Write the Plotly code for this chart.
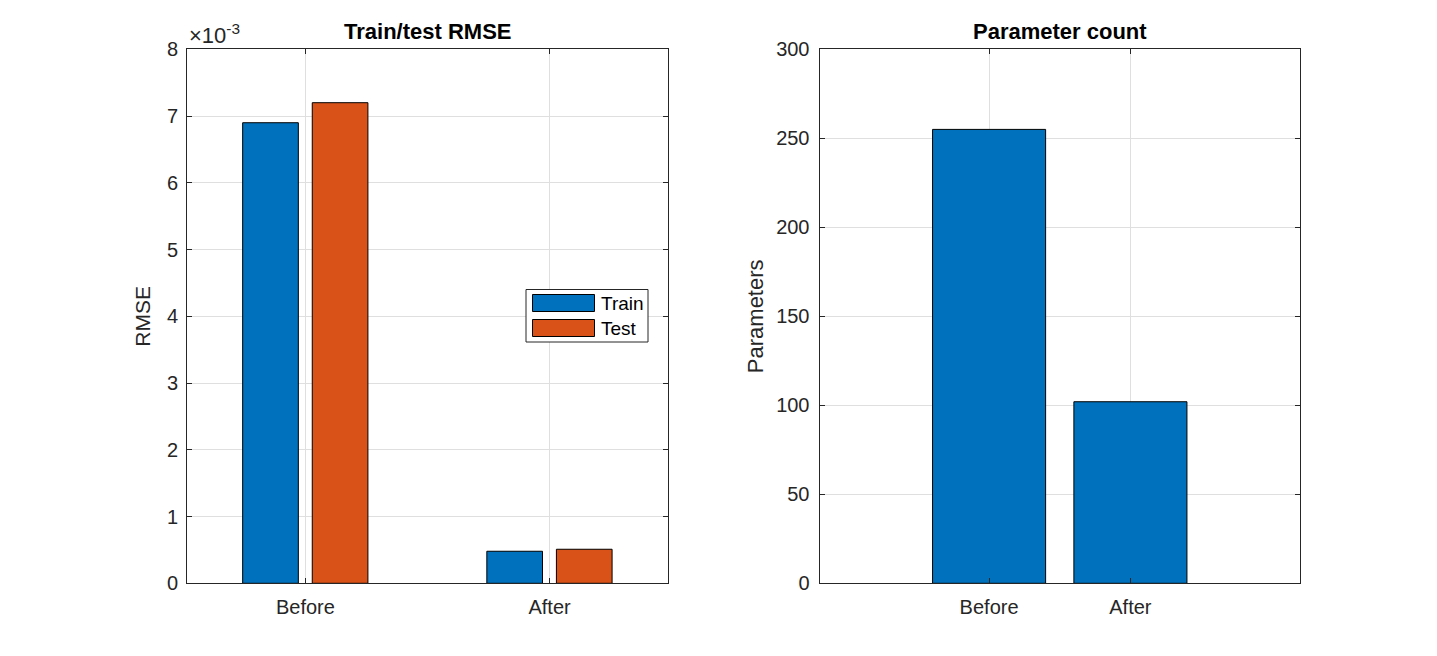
import plotly.graph_objects as go

# ---- data ----
categories = ["Before", "After"]
rmse_train = [6.9e-3, 0.48e-3]
rmse_test = [7.2e-3, 0.51e-3]
param_counts = [255, 102]
rmse_tick_vals = [0, 1e-3, 2e-3, 3e-3, 4e-3, 5e-3, 6e-3, 7e-3, 8e-3]
rmse_tick_text = ["0", "1", "2", "3", "4", "5", "6", "7", "8"]
param_tick_vals = [0, 50, 100, 150, 200, 250, 300]

BLUE = "#0072BD"
ORANGE = "#D95319"
AX = "#262626"
GRID = "#dfdfdf"
FONT = "Liberation Sans, Arial, sans-serif"

W, H = 1437, 656
# axes pixel boxes
L1, R1 = 187, 668
L2, R2 = 819.5, 1300
TOP, BOT = 49.3, 583.3

def px(x):
    return x / W

def py(y):
    return 1 - y / H

fig = go.Figure()

fig.add_trace(go.Bar(x=categories, y=rmse_train, name="Train", marker_color=BLUE,
                     marker_line=dict(color="black", width=1), width=0.228, offset=-0.257,
                     xaxis="x", yaxis="y", showlegend=False))
fig.add_trace(go.Bar(x=categories, y=rmse_test, name="Test", marker_color=ORANGE,
                     marker_line=dict(color="black", width=1), width=0.228, offset=0.028,
                     xaxis="x", yaxis="y", showlegend=False))
fig.add_trace(go.Bar(x=categories, y=param_counts, name="Parameters", marker_color=BLUE,
                     marker_line=dict(color="black", width=1), width=0.8, offset=-0.4,
                     xaxis="x2", yaxis="y2", showlegend=False))

axis_common = dict(showline=True, linecolor=AX, linewidth=1, mirror="allticks",
                   ticks="inside", ticklen=5, tickcolor=AX, showgrid=True,
                   gridcolor=GRID, gridwidth=1, zeroline=False, automargin=False,
                   tickfont=dict(family=FONT, size=20, color=AX))

fig.update_layout(
    width=W, height=H, margin=dict(l=0, r=0, t=0, b=0, autoexpand=False),
    paper_bgcolor="white", plot_bgcolor="white", barmode="overlay",
    font=dict(family=FONT, color=AX),
    xaxis=dict(domain=[px(L1), px(R1)], anchor="y", type="category",
               range=[-0.485, 1.485], ticklabelstandoff=6, **axis_common),
    yaxis=dict(domain=[py(BOT), py(TOP)], anchor="x", range=[0, 8e-3],
               tickvals=rmse_tick_vals, ticktext=rmse_tick_text, ticklabelstandoff=4,
               title=dict(text="RMSE", font=dict(family=FONT, size=21, color=AX), standoff=10),
               **axis_common),
    xaxis2=dict(domain=[px(L2), px(R2)], anchor="y2", type="category",
                range=[-1.2, 2.2], ticklabelstandoff=6, **axis_common),
    yaxis2=dict(domain=[py(BOT), py(TOP)], anchor="x2", range=[0, 300],
                tickvals=param_tick_vals, ticklabelstandoff=5,
                title=dict(text="Parameters", font=dict(family=FONT, size=22, color=AX), standoff=6),
                **axis_common),
)

# subplot titles
fig.add_annotation(text="<b>Train/test RMSE</b>", x=px((L1 + R1) / 2), y=py(TOP), xref="paper",
                   yref="paper", xanchor="center", yanchor="bottom", yshift=3, showarrow=False,
                   font=dict(family=FONT, size=22, color="black"))
fig.add_annotation(text="<b>Parameter count</b>", x=px((L2 + R2) / 2), y=py(TOP), xref="paper",
                   yref="paper", xanchor="center", yanchor="bottom", yshift=3, showarrow=False,
                   font=dict(family=FONT, size=22, color="black"))
# exponent label
fig.add_annotation(text="×10<sup>-3</sup>", x=px(L1), y=py(TOP), xref="paper", yref="paper",
                   xanchor="left", yanchor="bottom", yshift=-1, showarrow=False,
                   font=dict(family=FONT, size=22, color=AX))

# custom legend (MATLAB style)
lx0, lx1, ly0, ly1 = 526, 648, 289.5, 342
fig.add_shape(type="rect", xref="paper", yref="paper", x0=px(lx0), x1=px(lx1), y0=py(ly1), y1=py(ly0),
              line=dict(color=AX, width=1), fillcolor="white", layer="above")
legend_items = [("Train", BLUE, 303), ("Test", ORANGE, 328)]
for name, col, cy in legend_items:
    fig.add_shape(type="rect", xref="paper", yref="paper", x0=px(532.5), x1=px(594.5),
                  y0=py(cy + 8.5), y1=py(cy - 8.5), line=dict(color="black", width=1),
                  fillcolor=col, layer="above")
    fig.add_annotation(text=name, x=px(599), y=py(cy), xref="paper", yref="paper",
                       xanchor="left", yanchor="middle", showarrow=False,
                       font=dict(family=FONT, size=19, color="black"))

fig.write_html("out.html")
